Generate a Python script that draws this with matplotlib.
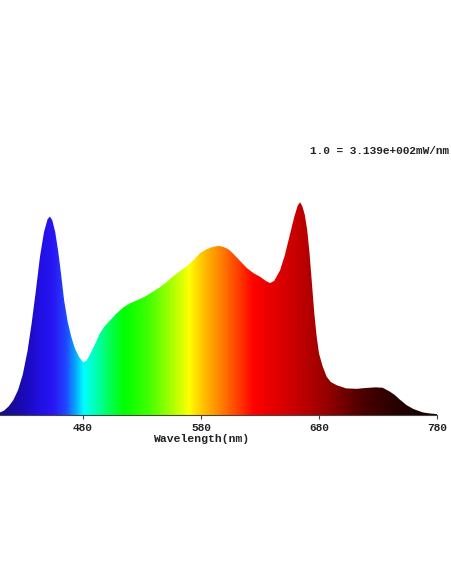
import matplotlib

matplotlib.use("Agg")
import matplotlib.pyplot as plt
import numpy as np
from matplotlib.colors import LinearSegmentedColormap
from matplotlib.patches import Polygon

# spectrum (normalised, 1.0 = red peak)
wavelength = [
    409.7, 413, 417, 421, 425, 429, 433, 436.5, 440, 443.6, 447, 450, 452, 454,
    456.5, 459, 461.5, 464, 467, 470, 473, 476.5, 480, 483, 486, 490, 494, 498, 503,
    508, 514, 520, 526, 532, 538, 545, 551, 556, 562, 568, 574, 579, 585, 590,
    595, 599, 603, 607, 613, 619, 625, 630, 635, 638.5, 642, 647, 651, 655,
    659, 662, 664, 666, 668, 670, 672, 674, 676, 678, 680, 683, 686.5, 690,
    695, 703, 712, 720, 728, 734, 740, 744, 748.6, 754, 760, 768, 774, 780,
]
intensity = [
    0.012, 0.02, 0.04, 0.07, 0.117, 0.19, 0.30, 0.43, 0.58, 0.745, 0.86, 0.92, 0.933, 0.915,
    0.86, 0.77, 0.66, 0.54, 0.44, 0.37, 0.315, 0.275, 0.248, 0.255, 0.285, 0.33, 0.38, 0.415, 0.445,
    0.475, 0.505, 0.525, 0.54, 0.555, 0.575, 0.60, 0.625, 0.65, 0.675, 0.70, 0.73, 0.76, 0.78, 0.79,
    0.795, 0.79, 0.78, 0.76, 0.725, 0.69, 0.665, 0.65, 0.63, 0.62, 0.63, 0.68, 0.75, 0.84,
    0.93, 0.985, 1.0, 0.98, 0.94, 0.87, 0.76, 0.62, 0.48, 0.37, 0.29, 0.23, 0.18, 0.155,
    0.14, 0.125, 0.123, 0.127, 0.13, 0.128, 0.11, 0.095, 0.072, 0.047, 0.028, 0.012, 0.007, 0.004,
]
ticks = [480, 580, 680, 780]
scale_note = "1.0 = 3.139e+002mW/nm"

# colour of the light at each wavelength
color_nm = [410, 430, 445, 455, 465, 472, 480, 492, 505, 515, 535, 555, 570,
            582, 597, 612, 625, 645, 665, 690, 715, 745, 780]
color_hex = ["#180a80", "#1a0ab8", "#2210e8", "#2a18f4", "#2048ff", "#0a98ff",
             "#00ffff", "#00ffa8", "#00ff40", "#00ff00", "#40ff00", "#a8ff00",
             "#ffff00", "#ffc000", "#ff8000", "#ff3c00", "#ff0000", "#e00000",
             "#c00000", "#900000", "#500000", "#280000", "#100000"]

x0, x1 = wavelength[0], wavelength[-1]
pos = [(w - x0) / (x1 - x0) for w in color_nm]
pos[0], pos[-1] = 0.0, 1.0
cmap = LinearSegmentedColormap.from_list("spectrum", list(zip(pos, color_hex)))

fig = plt.figure(figsize=(4.52, 5.84), dpi=100)
ax = fig.add_axes([0.0, 0.2894, 437 / 452, 0.4007])

ax.set_xlim(x0, x1)
ax.set_ylim(0, 1.1)

outline = np.column_stack([[x0] + wavelength + [x1], [0] + intensity + [0]])
shape = Polygon(outline, closed=True, facecolor="none", edgecolor="none")
ax.add_patch(shape)
grad = np.linspace(0, 1, 1000)[None, :]
im = ax.imshow(grad, cmap=cmap, extent=(x0, x1, 0, 1.1), aspect="auto",
               origin="lower", interpolation="bilinear")
im.set_clip_path(shape)

for side in ["top", "right", "left"]:
    ax.spines[side].set_visible(False)
ax.spines["bottom"].set_color("#444444")
ax.spines["bottom"].set_linewidth(0.8)
ax.set_yticks([])
ax.set_xticks(ticks)
ax.tick_params(axis="x", length=3, width=0.8, color="#444444", pad=2.5,
               labelsize=8, labelcolor="#222222")
for lab in ax.get_xticklabels():
    lab.set_family("Liberation Mono")
    lab.set_fontweight("bold")
ax.set_xlabel("Wavelength(nm)", family="Liberation Mono", fontweight="bold",
              fontsize=8.2, color="#222222")
# label sits under the 580 tick, not the axes centre
ax.xaxis.set_label_coords((580 - x0) / (x1 - x0), -0.08)

fig.text(310 / 452, 1 - 151 / 584, scale_note, family="Liberation Mono",
         fontweight="bold", fontsize=8, color="#222222", va="center", ha="left")

fig.savefig("out.png", dpi=100)
